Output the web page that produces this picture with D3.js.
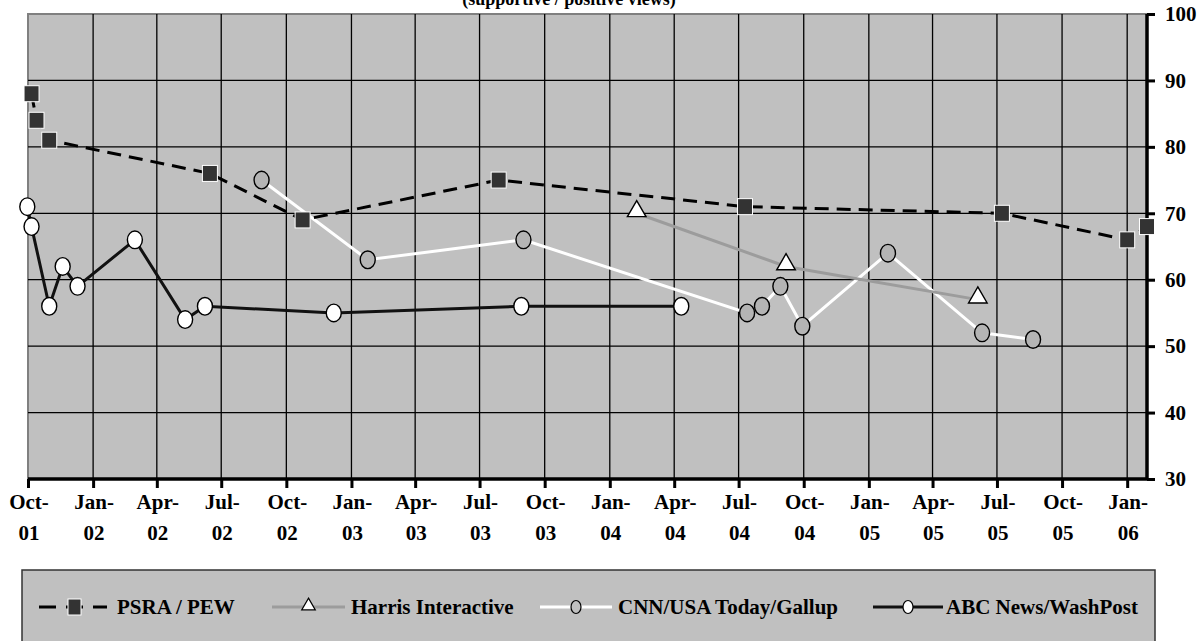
<!DOCTYPE html>
<html>
<head>
<meta charset="utf-8">
<script src="https://cdn.jsdelivr.net/npm/d3@7"></script>
<style>
  body { margin: 0; background: #fff; }
  text { font-family: "Liberation Serif", "Times New Roman", serif; font-weight: bold; }
</style>
</head>
<body>
<svg id="chart" width="1203" height="641"></svg>
<script>
// data
const psraDates  = ["2001-10-06","2001-10-13","2001-10-31","2002-06-15","2002-10-24","2003-07-28","2004-07-10","2005-07-08","2006-01-01","2006-01-29"];
const psraValues = [88, 84, 81, 76, 69, 75, 71, 70, 66, 68];

const harrisDates  = ["2004-02-08","2004-09-06","2005-06-04"];
const harrisValues = [70, 62, 57];

const cnnDates  = ["2002-08-27","2003-01-24","2003-09-01","2004-07-13","2004-08-03","2004-08-29","2004-09-29","2005-01-28","2005-06-10","2005-08-21"];
const cnnValues = [75, 63, 66, 55, 56, 59, 53, 64, 52, 51];

const abcDates  = ["2001-09-30","2001-10-06","2001-10-31","2001-11-19","2001-12-10","2002-03-01","2002-05-11","2002-06-08","2002-12-07","2003-08-29","2004-04-11"];
const abcValues = [71, 68, 56, 62, 59, 66, 54, 56, 55, 56, 56];

const xTickLabels = ["Oct-01","Jan-02","Apr-02","Jul-02","Oct-02","Jan-03","Apr-03","Jul-03","Oct-03",
                     "Jan-04","Apr-04","Jul-04","Oct-04","Jan-05","Apr-05","Jul-05","Oct-05","Jan-06"];
const yTicks = [30, 40, 50, 60, 70, 80, 90, 100];
const seriesNames = ["PSRA / PEW", "Harris Interactive", "CNN/USA Today/Gallup", "ABC News/WashPost"];

const parse = d3.timeParse("%Y-%m-%d");
const zip = (ds, vs) => ds.map((d, i) => ({date: parse(d), value: vs[i]}));

const svg = d3.select("#chart");
const pLeft = 28, pRight = 1147, pTop = 14, pBottom = 479;

const x = d3.scaleTime()
  .domain([new Date(2001, 9, 1), new Date(2006, 0, 29)])
  .range([pLeft, pRight]);
const y = d3.scaleLinear().domain([30, 100]).range([pBottom, pTop]);

const tickDates = xTickLabels.map((l, i) => d3.timeMonth.offset(new Date(2001, 9, 1), i * 3));

// title (cut off at the top, as in the original)
svg.append("text")
  .attr("x", 569).attr("y", 5)
  .attr("text-anchor", "middle")
  .attr("font-size", 18)
  .text("(supportive / positive views)");

// plot background
svg.append("rect")
  .attr("x", pLeft).attr("y", pTop)
  .attr("width", pRight - pLeft).attr("height", pBottom - pTop)
  .attr("fill", "#c0c0c0")
  .attr("stroke", "#808080").attr("stroke-width", 2);

// grid
svg.append("g").selectAll("line").data(yTicks.slice(1, -1)).join("line")
  .attr("x1", pLeft).attr("x2", pRight)
  .attr("y1", d => y(d)).attr("y2", d => y(d))
  .attr("stroke", "#000").attr("stroke-width", 1.3);
svg.append("g").selectAll("line").data(tickDates.slice(1)).join("line")
  .attr("x1", d => x(d)).attr("x2", d => x(d))
  .attr("y1", pTop).attr("y2", pBottom)
  .attr("stroke", "#000").attr("stroke-width", 1.3);

// x axis
const xAxis = svg.append("g")
  .attr("transform", `translate(0,${pBottom})`)
  .call(d3.axisBottom(x).tickValues(tickDates).tickSize(9).tickFormat(""));
xAxis.select(".domain").attr("stroke", "#000").attr("stroke-width", 3.5)
  .attr("d", `M${pLeft},0H${pRight}`);
xAxis.selectAll(".tick line").attr("stroke-width", 3);

const xl = svg.append("g").selectAll("text").data(tickDates).join("text")
  .attr("text-anchor", "middle")
  .attr("font-size", 21);
xl.append("tspan")
  .attr("x", d => x(d) + 1).attr("y", 509)
  .text((d, i) => xTickLabels[i].split("-")[0] + "-");
xl.append("tspan")
  .attr("x", d => x(d) + 1).attr("y", 540)
  .text((d, i) => xTickLabels[i].split("-")[1]);

// y axis on the right
const yAxis = svg.append("g")
  .attr("transform", `translate(${pRight},0)`)
  .call(d3.axisRight(y).tickValues(yTicks).tickSize(8).tickPadding(10));
yAxis.select(".domain").attr("stroke-width", 3.5).attr("d", `M0,${pTop}V${pBottom}`);
yAxis.selectAll(".tick line").attr("stroke-width", 3);
yAxis.selectAll(".tick text")
  .attr("font-family", "Liberation Serif, serif")
  .attr("font-weight", "bold")
  .attr("font-size", 21).attr("fill", "#000");

const line = d3.line().x(d => x(d.date)).y(d => y(d.value));

const psra = zip(psraDates, psraValues);
const harris = zip(harrisDates, harrisValues);
const cnn = zip(cnnDates, cnnValues);
const abc = zip(abcDates, abcValues);

// lines
svg.append("path").datum(abc).attr("d", line)
  .attr("fill", "none").attr("stroke", "#111").attr("stroke-width", 3);
svg.append("path").datum(cnn).attr("d", line)
  .attr("fill", "none").attr("stroke", "#fff").attr("stroke-width", 3);
svg.append("path").datum(harris).attr("d", line)
  .attr("fill", "none").attr("stroke", "#9c9c9c").attr("stroke-width", 3);
svg.append("path").datum(psra).attr("d", line)
  .attr("fill", "none").attr("stroke", "#000").attr("stroke-width", 3)
  .attr("stroke-dasharray", "14,8");

// markers
function ellipse(g, data, fill) {
  g.selectAll("ellipse.m").data(data).join("ellipse")
    .attr("cx", d => x(d.date)).attr("cy", d => y(d.value))
    .attr("rx", 7.5).attr("ry", 8.8)
    .attr("fill", fill).attr("stroke", "#000").attr("stroke-width", 1.4);
}
ellipse(svg.append("g"), abc, "#fff");
ellipse(svg.append("g"), cnn, "#b4b4b4");

const tri = d3.symbol().type(d3.symbolTriangle).size(150);
svg.append("g").selectAll("path").data(harris).join("path")
  .attr("transform", d => `translate(${x(d.date)},${y(d.value) - 2})`)
  .attr("d", tri)
  .attr("fill", "#fff").attr("stroke", "#000").attr("stroke-width", 1.4);

svg.append("g").selectAll("rect").data(psra).join("rect")
  .attr("x", d => x(d.date) - 7.5).attr("y", d => y(d.value) - 8)
  .attr("width", 15).attr("height", 16)
  .attr("fill", "#333").attr("stroke", "#fff").attr("stroke-width", 1);

// legend
const lg = svg.append("g");
lg.append("rect")
  .attr("x", 22).attr("y", 570).attr("width", 1133).attr("height", 80)
  .attr("fill", "#c0c0c0").attr("stroke", "#333").attr("stroke-width", 1.5);

const ly = 607;
const legendItems = [
  {name: seriesNames[0], x0: 39, x1: 107, text: 117},
  {name: seriesNames[1], x0: 272, x1: 345, text: 351},
  {name: seriesNames[2], x0: 540, x1: 612, text: 618},
  {name: seriesNames[3], x0: 873, x1: 943, text: 946}
];
// PSRA sample
lg.append("line").attr("x1", legendItems[0].x0).attr("x2", legendItems[0].x1)
  .attr("y1", ly).attr("y2", ly).attr("stroke", "#000").attr("stroke-width", 3)
  .attr("stroke-dasharray", "17,10");
lg.append("rect").attr("x", 68).attr("y", ly - 8).attr("width", 13).attr("height", 16)
  .attr("fill", "#333").attr("stroke", "#fff");
// Harris sample
lg.append("line").attr("x1", legendItems[1].x0).attr("x2", legendItems[1].x1)
  .attr("y1", ly).attr("y2", ly).attr("stroke", "#9c9c9c").attr("stroke-width", 3);
lg.append("path").attr("transform", `translate(${(legendItems[1].x0 + legendItems[1].x1) / 2},${ly - 1})`)
  .attr("d", d3.symbol().type(d3.symbolTriangle).size(80))
  .attr("fill", "#fff").attr("stroke", "#000").attr("stroke-width", 1.2);
// CNN sample
lg.append("line").attr("x1", legendItems[2].x0).attr("x2", legendItems[2].x1)
  .attr("y1", ly).attr("y2", ly).attr("stroke", "#fff").attr("stroke-width", 3);
lg.append("ellipse").attr("cx", (legendItems[2].x0 + legendItems[2].x1) / 2).attr("cy", ly)
  .attr("rx", 5).attr("ry", 6.5).attr("fill", "#c0c0c0").attr("stroke", "#000").attr("stroke-width", 1.2);
// ABC sample
lg.append("line").attr("x1", legendItems[3].x0).attr("x2", legendItems[3].x1)
  .attr("y1", ly).attr("y2", ly).attr("stroke", "#111").attr("stroke-width", 3);
lg.append("ellipse").attr("cx", (legendItems[3].x0 + legendItems[3].x1) / 2).attr("cy", ly)
  .attr("rx", 5).attr("ry", 6.5).attr("fill", "#fff").attr("stroke", "#000").attr("stroke-width", 1.2);

lg.selectAll("text.name").data(legendItems).join("text")
  .attr("x", d => d.text).attr("y", ly + 7)
  .attr("font-size", 21)
  .text(d => d.name);
</script>
</body>
</html>
